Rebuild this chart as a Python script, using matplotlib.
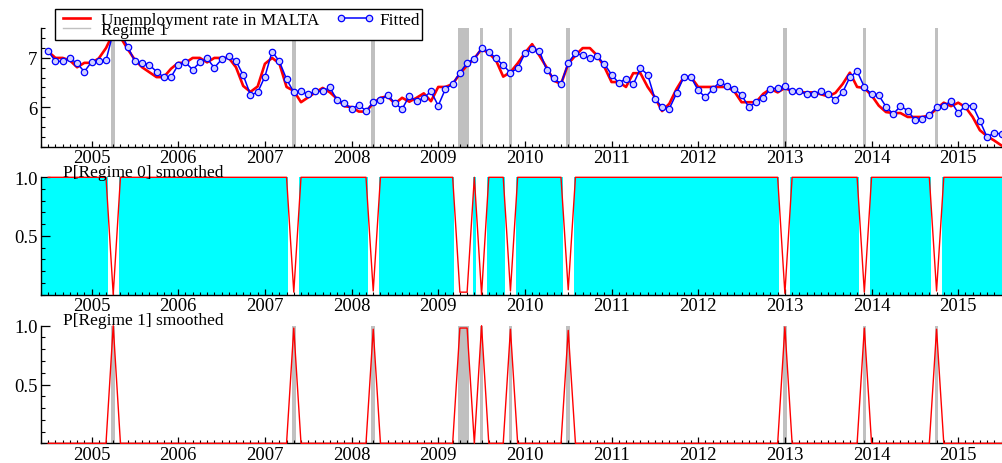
import numpy as np
import matplotlib
matplotlib.use("Agg")
import matplotlib.pyplot as plt
from matplotlib.lines import Line2D
from matplotlib.ticker import MultipleLocator, FixedLocator, FormatStrFormatter

plt.rcParams['font.family'] = ['Liberation Serif', 'DejaVu Serif']

# ---------------- data (monthly, 2004(7) .. 2015(7)) ----------------
start_year, start_month = 2004, 7

actual = [7.13, 7.00, 7.00, 6.95, 6.81, 6.90, 6.90, 6.99, 7.20, 7.50,
          7.42, 7.18, 6.96, 6.81, 6.71, 6.61, 6.61, 6.78, 6.90, 6.90,
          7.00, 7.00, 6.91, 7.00, 7.00, 7.00, 6.81, 6.43, 6.31, 6.42,
          6.88, 7.00, 6.89, 6.41, 6.33, 6.10, 6.20, 6.30, 6.39, 6.30,
          6.17, 6.02, 6.00, 5.91, 5.91, 6.08, 6.19, 6.22, 6.07, 6.19,
          6.11, 6.19, 6.28, 6.12, 6.41, 6.41, 6.47, 6.68, 6.85, 6.99,
          7.18, 7.10, 6.95, 6.62, 6.71, 6.89, 7.10, 7.28, 7.05, 6.81,
          6.54, 6.47, 6.88, 7.05, 7.20, 7.20, 7.05, 6.82, 6.51, 6.51,
          6.41, 6.69, 6.69, 6.41, 6.20, 5.92, 6.07, 6.37, 6.61, 6.61,
          6.41, 6.41, 6.41, 6.41, 6.41, 6.32, 6.10, 6.10, 6.10, 6.27,
          6.37, 6.30, 6.39, 6.32, 6.30, 6.30, 6.30, 6.26, 6.22, 6.29,
          6.47, 6.70, 6.41, 6.39, 6.24, 6.03, 5.90, 5.88, 5.88, 5.80,
          5.80, 5.80, 5.83, 5.97, 6.09, 6.02, 6.09, 6.00, 5.80, 5.53,
          5.41, 5.32, 5.22]

fitted = [7.14, 6.93, 6.93, 6.99, 6.89, 6.72, 6.92, 6.93, 6.95, 7.52,
          7.52, 7.23, 6.93, 6.90, 6.86, 6.72, 6.61, 6.61, 6.86, 6.91,
          6.76, 6.91, 6.99, 6.80, 6.97, 7.03, 6.94, 6.65, 6.25, 6.30,
          6.62, 7.13, 6.93, 6.57, 6.30, 6.32, 6.26, 6.32, 6.32, 6.40,
          6.14, 6.09, 5.96, 6.05, 5.92, 6.10, 6.15, 6.25, 6.08, 5.96,
          6.23, 6.12, 6.19, 6.32, 6.03, 6.37, 6.47, 6.70, 6.90, 6.98,
          7.20, 7.13, 6.99, 6.85, 6.70, 6.79, 7.09, 7.18, 7.15, 6.76,
          6.59, 6.47, 6.90, 7.10, 7.05, 6.99, 7.03, 6.88, 6.66, 6.49,
          6.58, 6.46, 6.79, 6.66, 6.17, 6.00, 5.97, 6.28, 6.61, 6.61,
          6.34, 6.20, 6.37, 6.51, 6.43, 6.37, 6.25, 6.00, 6.10, 6.19,
          6.37, 6.39, 6.42, 6.32, 6.32, 6.27, 6.27, 6.32, 6.26, 6.15,
          6.30, 6.61, 6.73, 6.41, 6.26, 6.24, 6.01, 5.86, 6.02, 5.93,
          5.74, 5.75, 5.84, 6.00, 6.03, 6.12, 5.88, 6.03, 6.03, 5.72,
          5.39, 5.48, 5.45]

# months classified in regime 1 and their smoothed probability (all other months ~0)
regime1_dates = [(2005, 4), (2007, 5), (2008, 4), (2009, 4), (2009, 5), (2009, 7),
                 (2009, 11), (2010, 7), (2013, 1), (2013, 12), (2014, 10)]
regime1_prob = [1.00, 0.98, 0.97, 0.98, 0.98, 1.00, 0.97, 0.96, 0.99, 0.98, 0.97]

year_ticks = list(range(2005, 2016))

# ---------------- derived ----------------
n = len(actual)
t = start_year + (start_month - 1) / 12 + np.arange(n) / 12
p1 = np.zeros(n)
for (yy, mm), p in zip(regime1_dates, regime1_prob):
    p1[(yy - start_year) * 12 + (mm - start_month)] = p
p0 = 1 - p1
reg = (p1 > 0.5).astype(int)


def runs(flag, value):
    out = []
    i = 0
    while i < len(flag):
        if flag[i] == value:
            j = i
            while j + 1 < len(flag) and flag[j + 1] == value:
                j += 1
            out.append((i, j))
            i = j + 1
        else:
            i += 1
    return out


h = 0.25 / 12
xlim = (t[0] - 1 / 12, t[-1] + 0.2 / 12)
GREY = '#c0c0c0'

W, H = 1003, 464
fig = plt.figure(figsize=(W / 100, H / 100), dpi=100)


def rect(top, bottom):
    return [41 / W, 1 - bottom / H, 962 / W, (bottom - top) / H]


ax1 = fig.add_axes(rect(29.4, 147.5))
ax2 = fig.add_axes(rect(178.3, 295.5))
ax3 = fig.add_axes(rect(326.7, 444.3))


def style(ax):
    for s in ['top', 'right']:
        ax.spines[s].set_visible(False)
    for s in ['left', 'bottom']:
        ax.spines[s].set_linewidth(1.0)
    ax.set_xlim(*xlim)
    ax.xaxis.set_major_locator(FixedLocator(year_ticks))
    ax.set_xticklabels([str(y) for y in year_ticks])
    ax.xaxis.set_minor_locator(MultipleLocator(1 / 12))
    ax.tick_params(axis='x', which='major', direction='in', length=4.0, width=0.9,
                   pad=2.0, labelsize=13.5)
    ax.tick_params(axis='x', which='minor', direction='in', length=2.2, width=0.8)
    ax.tick_params(axis='y', which='major', direction='in', length=6.5, width=0.9,
                   pad=2.5, labelsize=13.5)
    ax.tick_params(axis='y', which='minor', direction='in', length=3.0, width=0.8)


# ---- top panel ----
style(ax1)
for a, b in runs(reg, 1):
    ax1.axvspan(t[a] - h, t[b] + h, color=GREY, lw=0, zorder=1)
ax1.plot(t, actual, color='red', lw=1.9, zorder=3)
ax1.plot(t, fitted, color='blue', lw=1.1, marker='o', ms=4.6, mfc='#d0d0ff',
         mec='blue', mew=0.9, zorder=4)
ax1.set_ylim(5.2, 7.6)
ax1.yaxis.set_major_locator(FixedLocator([6, 7]))
ax1.yaxis.set_minor_locator(MultipleLocator(0.2))

handles = [Line2D([], [], color='red', lw=1.9),
           Line2D([], [], color=GREY, lw=1.0),
           Line2D([], [], color='blue', lw=1.1, marker='o', ms=4.6, mfc='#d0d0ff',
                  mec='blue', mew=0.9)]
labels = ['Unemployment rate in MALTA', 'Regime 1', 'Fitted']
leg = fig.legend(handles, labels, ncol=2, loc='upper left',
                 bbox_to_anchor=(55 / W, 1 - 10 / H), fontsize=12.4, frameon=True,
                 fancybox=False, edgecolor='black', framealpha=1, borderpad=0.15,
                 labelspacing=-0.35, handlelength=2.2, handletextpad=0.3,
                 columnspacing=1.0, borderaxespad=0, numpoints=2)
leg.get_frame().set_linewidth(1.0)

# ---- middle panel ----
style(ax2)
r0 = runs(reg, 0)
for k, (a, b) in enumerate(r0):
    left = xlim[0] if k == 0 else t[a] - h
    right = xlim[1] if k == len(r0) - 1 else t[b] + h
    ax2.axvspan(left, right, color='#00ffff', lw=0, zorder=1)
ax2.plot(t, p0, color='red', lw=1.0, zorder=3, clip_on=False)
ax2.set_ylim(0, 1)
ax2.yaxis.set_major_locator(FixedLocator([0.5, 1.0]))
ax2.yaxis.set_major_formatter(FormatStrFormatter('%.1f'))
ax2.yaxis.set_minor_locator(MultipleLocator(0.1))
ax2.text(0.0232, 1.012, 'P[Regime 0] smoothed', transform=ax2.transAxes,
         fontsize=12.5, va='baseline', ha='left')

# ---- bottom panel ----
style(ax3)
for a, b in runs(reg, 1):
    ax3.axvspan(t[a] - h, t[b] + h, color=GREY, lw=0, zorder=1)
ax3.plot(t, p1, color='red', lw=1.0, zorder=3, clip_on=False)
ax3.set_ylim(0, 1)
ax3.yaxis.set_major_locator(FixedLocator([0.5, 1.0]))
ax3.yaxis.set_major_formatter(FormatStrFormatter('%.1f'))
ax3.yaxis.set_minor_locator(MultipleLocator(0.1))
ax3.text(0.0232, 1.012, 'P[Regime 1] smoothed', transform=ax3.transAxes,
         fontsize=12.5, va='baseline', ha='left')

fig.savefig('out.png', dpi=100)
